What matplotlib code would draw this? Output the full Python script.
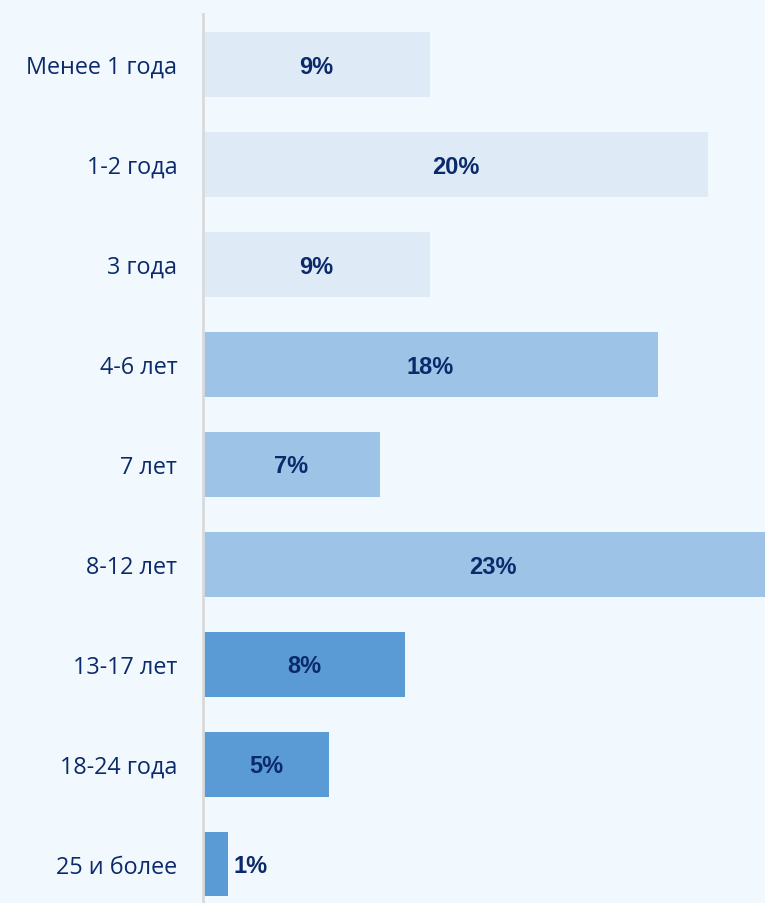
import matplotlib
matplotlib.use("Agg")
import matplotlib.pyplot as plt

categories = ["Менее 1 года", "1-2 года", "3 года", "4-6 лет", "7 лет",
              "8-12 лет", "13-17 лет", "18-24 года", "25 и более"]
values = [9, 20, 9, 18, 7, 23, 8, 5, 1]
colors = ["#DEEAF6", "#DEEAF6", "#DEEAF6",
          "#9DC3E6", "#9DC3E6", "#9DC3E6",
          "#5B9BD5", "#5B9BD5", "#5B9BD5"]

bg = "#F2F9FE"
navy = "#0B2A6B"

fig = plt.figure(figsize=(7.65, 9.04), dpi=100, facecolor=bg)
W, H = 765, 904
ax = fig.add_axes([203 / W, 0, 1 - 203 / W, (H - 15) / H])
ax.set_facecolor(bg)

y = list(range(len(categories)))
ax.barh(y, values, height=0.65, color=colors, zorder=2)

ax.set_xlim(0, (W - 203) / 25.25)
ax.set_ylim(-0.5 + (H - 15) / 100, -0.5)

for yi, v in zip(y, values):
    if v >= 3:
        ax.text(v / 2, yi + 0.02, f"{v}%", ha="center", va="center", fontsize=17,
                fontweight="bold", color=navy, family="Liberation Sans", zorder=3)
    else:
        ax.text(v + 0.2, yi + 0.02, f"{v}%", ha="left", va="center", fontsize=17,
                fontweight="bold", color=navy, family="Liberation Sans", zorder=3)

ax.set_yticks(y)
ax.set_yticklabels(categories, fontsize=16.8, color=navy, family="Open Sans")
ax.tick_params(axis="y", length=0, pad=18.5)
ax.set_xticks([])
for s in ["top", "right", "bottom"]:
    ax.spines[s].set_visible(False)
ax.spines["left"].set_color("#D9D9D9")
ax.spines["left"].set_linewidth(2)
ax.spines["left"].set_zorder(4)

fig.savefig("out.png", dpi=100, facecolor=bg)
